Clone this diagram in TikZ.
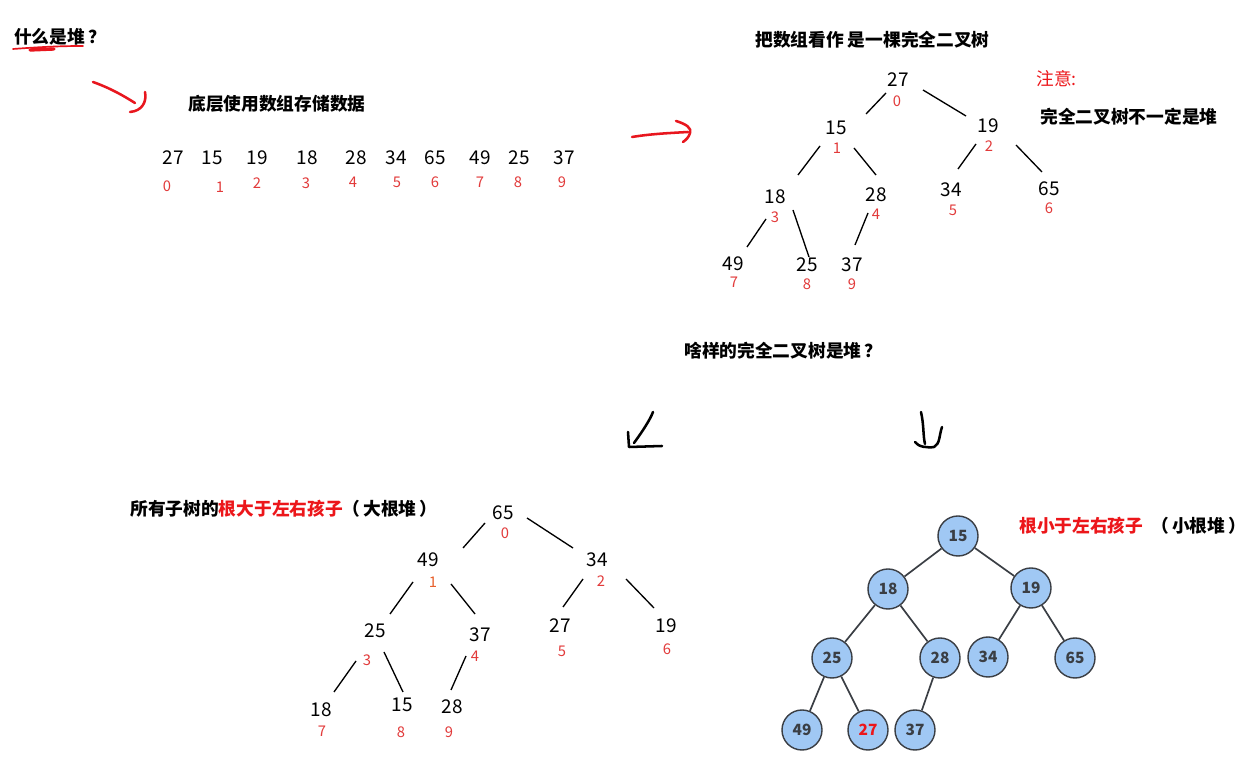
\documentclass[tikz,border=0pt]{standalone}
\usepackage{fontspec}
\setmainfont{Noto Sans CJK SC}
\definecolor{penred}{RGB}{232,22,30}
\definecolor{idxred}{RGB}{226,58,58}
\definecolor{idxorange}{RGB}{232,96,44}
\definecolor{lblred}{RGB}{236,22,26}
\definecolor{ballfill}{RGB}{160,200,244}
\definecolor{ballline}{RGB}{58,62,68}
\tikzset{
  num/.style={inner sep=0pt, font=\fontsize{13.5}{14}\selectfont},
  idx/.style={inner sep=0pt, text=idxred, font=\fontsize{10.5}{11}\selectfont},
  lbl/.style={inner sep=0pt, anchor=west, font=\fontsize{12.6}{14}\selectfont\bfseries},
  pen/.style={line width=1.8pt, line cap=round, line join=round},
  link/.style={line width=0.95pt},
  ball/.style={circle, draw=ballline, fill=ballfill, line width=1pt, inner sep=0pt,
    minimum size=1cm, text=ballline, font=\fontsize{11}{12}\selectfont\bfseries},
}
\begin{document}
\begin{tikzpicture}[x=0.025cm, y=-0.025cm]
  \path[use as bounding box, fill=white] (0,0) rectangle (1259,766);

  \node[lbl] (what) at (14,37) {什么是堆\,？};
  \draw[pen, penred, line width=1.2pt] (13,49) .. controls (40,47) and (60,46) .. (83,46);
  \draw[pen, penred, line width=2.4pt] (30,50) -- (54,49);
  \draw[pen, penred] (93,82) .. controls (110,88) and (124,96) .. (135,103);
  \draw[pen, penred] (145,92) .. controls (147,102) and (142,111) .. (130,112);

  \node[lbl] (array) at (188,104) {底层使用数组存储数据};
  \node[num] (a0) at (173,158) {27};
  \node[num] (a1) at (212,158) {15};
  \node[num] (a2) at (257,158) {19};
  \node[num] (a3) at (307,158) {18};
  \node[num] (a4) at (356,158) {28};
  \node[num] (a5) at (396,158) {34};
  \node[num] (a6) at (435,158) {65};
  \node[num] (a7) at (480,158) {49};
  \node[num] (a8) at (519,158) {25};
  \node[num] (a9) at (564,158) {37};
  \node[idx] (ai0) at (167,186) {0};
  \node[idx] (ai1) at (220,187) {1};
  \node[idx] (ai2) at (257,183) {2};
  \node[idx] (ai3) at (306,183) {3};
  \node[idx] (ai4) at (353,182) {4};
  \node[idx] (ai5) at (397,182) {5};
  \node[idx] (ai6) at (435,182) {6};
  \node[idx] (ai7) at (480,182) {7};
  \node[idx] (ai8) at (518,182) {8};
  \node[idx] (ai9) at (562,182) {9};

  \draw[pen, penred] (632,137) .. controls (650,134) and (670,133) .. (688,132);
  \draw[pen, penred] (676,121) .. controls (686,124) and (692,128) .. (690,133)
    .. controls (689,137) and (686,140) .. (683,142);

  \node[lbl] (tree) at (755,40) {把数组看作 是一棵完全二叉树};
  \node[inner sep=0pt, anchor=west, text=lblred, font=\fontsize{12.6}{14}\selectfont] (note) at (1036,79) {注意:};
  \node[lbl] (notheap) at (1040,117) {完全二叉树不一定是堆};
  \node[num] (b0) at (898,80) {27};
  \node[num] (b1) at (836,128) {15};
  \node[num] (b2) at (988,126) {19};
  \node[num] (b3) at (775,197) {18};
  \node[num] (b4) at (876,195) {28};
  \node[num] (b5) at (951,190) {34};
  \node[num] (b6) at (1049,189) {65};
  \node[num] (b7) at (733,264) {49};
  \node[num] (b8) at (807,265) {25};
  \node[num] (b9) at (852,265) {37};
  \node[idx] (bi0) at (897,101) {0};
  \node[idx] (bi1) at (837,148) {1};
  \node[idx] (bi2) at (989,146) {2};
  \node[idx] (bi3) at (775,217) {3};
  \node[idx] (bi4) at (876,214) {4};
  \node[idx] (bi5) at (953,210) {5};
  \node[idx] (bi6) at (1049,208) {6};
  \node[idx] (bi7) at (734,282) {7};
  \node[idx] (bi8) at (807,284) {8};
  \node[idx] (bi9) at (852,284) {9};
  \draw[link] ([shift={(-12,13)}]b0.center) -- ([shift={(30,-14)}]b1.center);
  \draw[link] ([shift={(25,10)}]b0.center) -- ([shift={(-22,-10)}]b2.center);
  \draw[link] ([shift={(-16,18)}]b1.center) -- ([shift={(23,-22)}]b3.center);
  \draw[link] ([shift={(18,20)}]b1.center) -- ([shift={(0,-20)}]b4.center);
  \draw[link] ([shift={(-12,18)}]b2.center) -- ([shift={(7,-21)}]b5.center);
  \draw[link] ([shift={(28,19)}]b2.center) -- ([shift={(-7,-17)}]b6.center);
  \draw[link] ([shift={(-9,22)}]b3.center) -- ([shift={(14,-17)}]b7.center);
  \draw[link] ([shift={(18,13)}]b3.center) -- ([shift={(2,-8)}]b8.center);
  \draw[link] ([shift={(-8,18)}]b4.center) -- ([shift={(3,-20)}]b9.center);

  \node[lbl] (which) at (684,351) {啥样的完全二叉树是堆\,？};
  \draw[pen, black] (653,412) .. controls (650,420) and (642,432) .. (634,443);
  \draw[pen, black] (628,432) -- (629,447) -- (662,446);
  \draw[pen, black] (921,412) .. controls (924,425) and (923,436) .. (925,444);
  \draw[pen, black] (915,442) .. controls (918,447) and (928,448) .. (934,447)
    .. controls (940,444) and (939,436) .. (942,427);

  \node[lbl] (maxheap) at (130,509) {所有子树的\textcolor{lblred}{根大于左右孩子}（\,大根堆\,）};
  \node[num] (c0) at (503,513) {65};
  \node[num] (c1) at (428,560) {49};
  \node[num] (c2) at (597,560) {34};
  \node[num] (c3) at (375,631) {25};
  \node[num] (c4) at (480,635) {37};
  \node[num] (c5) at (560,626) {27};
  \node[num] (c6) at (666,626) {19};
  \node[num] (c7) at (321,710) {18};
  \node[num] (c8) at (402,705) {15};
  \node[num] (c9) at (452,707) {28};
  \node[idx] (ci0) at (505,533) {0};
  \node[idx, text=idxorange] (ci1) at (433,582) {1};
  \node[idx] (ci2) at (601,581) {2};
  \node[idx] (ci3) at (367,660) {3};
  \node[idx] (ci4) at (475,656) {4};
  \node[idx] (ci5) at (562,651) {5};
  \node[idx] (ci6) at (667,649) {6};
  \node[idx] (ci7) at (322,731) {7};
  \node[idx] (ci8) at (401,732) {8};
  \node[idx] (ci9) at (449,732) {9};
  \draw[link] ([shift={(-18,10)}]c0.center) -- ([shift={(35,-12)}]c1.center);
  \draw[link] ([shift={(24,5)}]c0.center) -- ([shift={(-24,-12)}]c2.center);
  \draw[link] ([shift={(-15,22)}]c1.center) -- ([shift={(15,-17)}]c3.center);
  \draw[link] ([shift={(23,24)}]c1.center) -- ([shift={(-5,-21)}]c4.center);
  \draw[link] ([shift={(-14,19)}]c2.center) -- ([shift={(3,-19)}]c5.center);
  \draw[link] ([shift={(29,19)}]c2.center) -- ([shift={(-12,-18)}]c6.center);
  \draw[link] ([shift={(-19,30)}]c3.center) -- ([shift={(13,-18)}]c7.center);
  \draw[link] ([shift={(9,21)}]c3.center) -- ([shift={(1,-13)}]c8.center);
  \draw[link] ([shift={(-14,21)}]c4.center) -- ([shift={(-1,-17)}]c9.center);

  \node[lbl] (minheap) at (1019,526) {\textcolor{lblred}{根小于左右孩子}\ \ （\,小根堆\,）};
  \node[ball] (d0) at (958,536) {15};
  \node[ball] (d1) at (888,589) {18};
  \node[ball] (d2) at (1031,588) {19};
  \node[ball] (d3) at (832,658) {25};
  \node[ball] (d4) at (940,658) {28};
  \node[ball] (d5) at (988,657) {34};
  \node[ball] (d6) at (1075,658) {65};
  \node[ball] (d7) at (802,730) {49};
  \node[ball, text=lblred] (d8) at (868,730) {27};
  \node[ball] (d9) at (915,730) {37};
  \draw[ballline, line width=1.2pt] (d0) -- (d1);
  \draw[ballline, line width=1.2pt] (d0) -- (d2);
  \draw[ballline, line width=1.2pt] (d1) -- (d3);
  \draw[ballline, line width=1.2pt] (d1) -- (d4);
  \draw[ballline, line width=1.2pt] (d2) -- (d5);
  \draw[ballline, line width=1.2pt] (d2) -- (d6);
  \draw[ballline, line width=1.2pt] (d3) -- (d7);
  \draw[ballline, line width=1.2pt] (d3) -- (d8);
  \draw[ballline, line width=1.2pt] (d4) -- (d9);
\end{tikzpicture}
\end{document}
